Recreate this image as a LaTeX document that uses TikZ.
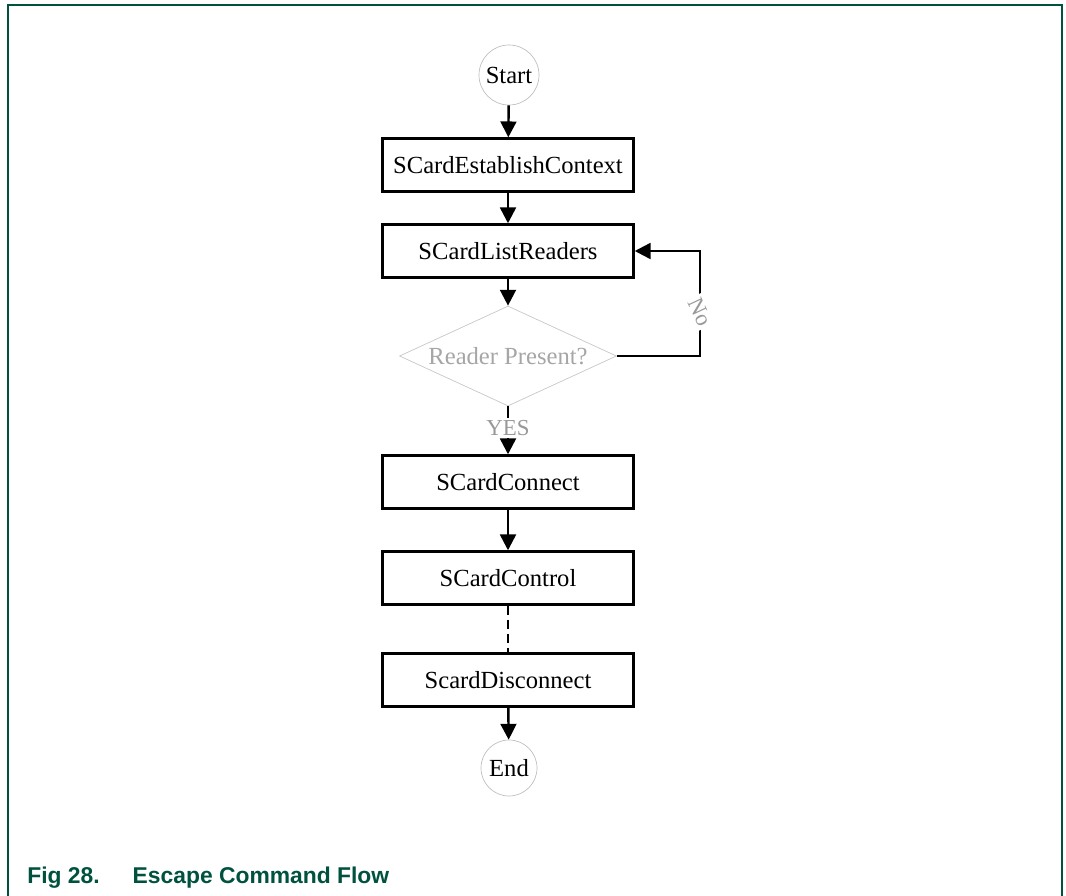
\documentclass[tikz,border=0pt]{standalone}
\usepackage{fontspec}
\setmainfont{Liberation Serif}
\setsansfont{Liberation Sans}
\usepackage{tikz}
\usetikzlibrary{positioning,arrows.meta,calc,shapes.geometric}
\definecolor{figgreen}{RGB}{0,82,62}
\tikzset{
    auto,
    terminal/.style = {
        draw=black!25,
        shape=circle,
        minimum size=1.2cm,
        inner sep=0pt,
        font=\fontsize{14}{16}\selectfont
    },
    process/.style = {
        draw,
        shape=rectangle,
        minimum height=1.06cm,
        minimum width=5.02cm,
        line width=1.4pt,
        font=\fontsize{14}{16}\selectfont
    },
    decision/.style = {
        draw=black!22,
        shape=diamond,
        aspect=2.17,
        minimum width=4.34cm,
        minimum height=2cm,
        inner sep=0pt,
        text=black!35,
        font=\fontsize{14}{16}\selectfont
    },
    answer/.style = {
        fill=white,
        text=black!40,
        anchor=center,
        inner sep=1.5pt,
        font=\fontsize{13}{15}\selectfont
    },
    flow/.style = {
        line width=1.4pt,
        -{Triangle[width=9pt,length=9pt]}
    },
    >=Triangle,
}

\begin{document}
\begin{tikzpicture}
            \useasboundingbox (0,0) rectangle (21.32,-17.92);
            \draw[figgreen, line width=1.1pt] (0.16,-17.92) -- (0.16,-0.1) -- (21.24,-0.1) -- (21.24,-17.92);

            \node[terminal] (start) at (10.18,-1.5) {Start};
            \node[process] (establish) at (10.16,-3.3) {SCardEstablishContext};
            \node[process] (listreaders) at (10.16,-5.02) {SCardListReaders};
            \node[decision] (present) at (10.16,-7.12) {Reader Present?};
            \node[process] (connect) at (10.16,-9.64) {SCardConnect};
            \node[process] (control) at (10.16,-11.56) {SCardControl};
            \node[process] (disconnect) at (10.16,-13.6) {ScardDisconnect};
            \node[terminal, minimum size=1.12cm] (end) at (10.18,-15.36) {End};
            \coordinate (turn) at (14.0,-7.12);

            \path[draw, flow] (start) -- (establish);
            \path[draw, flow] (establish) -- (listreaders);
            \path[draw, flow] (listreaders) -- (present);
            \path[draw, flow] (present.east) -- (turn) |- node[answer, rotate=-65, pos=0.21] {No} (listreaders.east);
            \path[draw, flow] (present) -- node[answer, pos=0.45] {YES} (connect);
            \path[draw, flow] (connect) -- (control);
            \path[draw, line width=1.4pt, dash pattern=on 5pt off 3pt] (control) -- (disconnect);
            \path[draw, flow] (disconnect) -- (end);

            \node[anchor=base west, inner sep=0pt, text=figgreen, font=\sffamily\bfseries\fontsize{13}{15}\selectfont] (caption) at (0.54,-17.66) {Fig 28.\hspace{0.66cm}Escape Command Flow};
        \end{tikzpicture}
\end{document}
